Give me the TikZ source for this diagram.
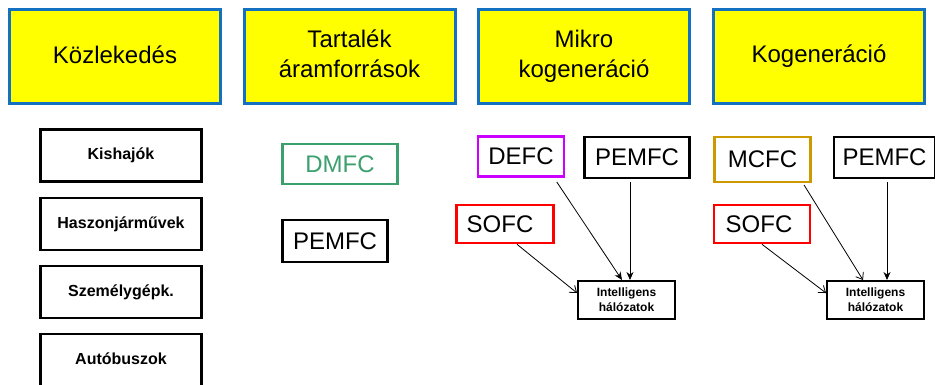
\documentclass[tikz,border=0pt]{standalone}
\usepackage{fontspec}
\setmainfont{Liberation Sans}
\usetikzlibrary{arrows.meta}
\definecolor{hdrblue}{RGB}{20,112,192}
\definecolor{hdryellow}{RGB}{255,255,0}
\definecolor{dmfcgreen}{RGB}{60,160,110}
\definecolor{defcmag}{RGB}{204,0,255}
\definecolor{mcfcgold}{RGB}{204,153,0}
\definecolor{sofcred}{RGB}{255,0,0}
\tikzset{
  hdr/.style={draw=hdrblue, fill=hdryellow, line width=3pt, minimum width=211pt, minimum height=94pt, align=center, font=\fontsize{24}{30}\selectfont, inner sep=0pt},
  appbox/.style={draw=black, line width=2.8pt, minimum width=161pt, minimum height=52pt, font=\bfseries\fontsize{16}{19}\selectfont, inner sep=0pt},
  fcbox/.style={draw=black, line width=2.6pt, minimum height=40pt, font=\fontsize{24}{28}\selectfont, inner sep=0pt},
  netbox/.style={draw=black, line width=2pt, minimum width=97pt, minimum height=38pt, align=center, font=\bfseries\fontsize{12}{15}\selectfont, inner sep=0pt},
  arrfill/.style={-{Stealth[length=8pt,width=7pt]}, line width=0.8pt},
  arropen/.style={-{Straight Barb[length=6pt,width=9pt]}, line width=0.8pt},
}
\newcommand{\twolines}[2]{\raisebox{-2pt}{\begin{tabular}{@{}c@{}}#1\\#2\end{tabular}}}
\begin{document}
\begin{tikzpicture}[x=1pt,y=-1pt]
\useasboundingbox (0,0) rectangle (935,384);
% headers
\node[hdr] (h1) at (115,56.5) {\raisebox{3pt}{Közlekedés}};
\node[hdr] (h2) at (349.5,56.5) {\twolines{Tartalék}{áramforrások}};
\node[hdr] (h3) at (584,56.5) {\twolines{Mikro}{kogeneráció}};
\node[hdr] (h4) at (819,56.5) {\raisebox{3pt}{Kogeneráció}};
% column 1
\node[appbox] (kis) at (121,155.5) {\raisebox{-3pt}{Kishajók}};
\node[appbox] (has) at (121,224) {Haszonjárművek};
\node[appbox] (sze) at (121,292) {\raisebox{-3pt}{Személygépk.}};
\node[appbox] (aut) at (121,360) {\raisebox{2pt}{Autóbuszok}};
% column 2
\node[fcbox, draw=dmfcgreen, text=dmfcgreen, minimum width=115pt] (dmfc) at (340,164) {DMFC};
\node[fcbox, minimum width=105pt, minimum height=42pt] (pem2) at (335,241) {PEMFC};
% column 3
\node[fcbox, draw=defcmag, minimum width=86pt] (defc) at (521,156.5) {DEFC};
\node[fcbox, minimum width=105pt, minimum height=41pt] (pem3) at (637,157.5) {PEMFC};
\node[fcbox, draw=sofcred, minimum width=97pt, minimum height=38pt] (sofc3) at (505,224) {\hspace*{-10pt}SOFC};
\node[netbox] (net3) at (626.5,300) {Intelligens\\hálózatok};
% column 4
\node[fcbox, draw=mcfcgold, minimum width=96pt, minimum height=45pt] (mcfc) at (762.5,159.5) {\raisebox{-5pt}{MCFC}};
\node[fcbox, minimum width=101pt, minimum height=41pt] (pem4) at (884.5,157.5) {PEMFC};
\node[fcbox, draw=sofcred, minimum width=96pt, minimum height=38pt] (sofc4) at (762,224) {\hspace*{-6pt}SOFC};
\node[netbox] (net4) at (875.5,300) {Intelligens\\hálózatok};
% connectors
\draw[arrfill, shorten <=5pt] ([xshift=33pt]defc.south) -- ([xshift=-4.5pt]net3.north);
\draw[arrfill, shorten <=3pt] ([xshift=-7pt]pem3.south) -- ([xshift=3.5pt]net3.north);
\draw[arropen] ([xshift=12pt]sofc3.south) -- ([yshift=7pt]net3.west);
\draw[arropen, shorten <=2pt] ([xshift=40.5pt]mcfc.south) -- ([xshift=-12.5pt]net4.north);
\draw[arrfill, shorten <=3pt] ([xshift=2.5pt]pem4.south) -- ([xshift=11.5pt]net4.north);
\draw[arropen] (sofc4.south) -- ([yshift=7pt]net4.west);
\end{tikzpicture}
\end{document}
